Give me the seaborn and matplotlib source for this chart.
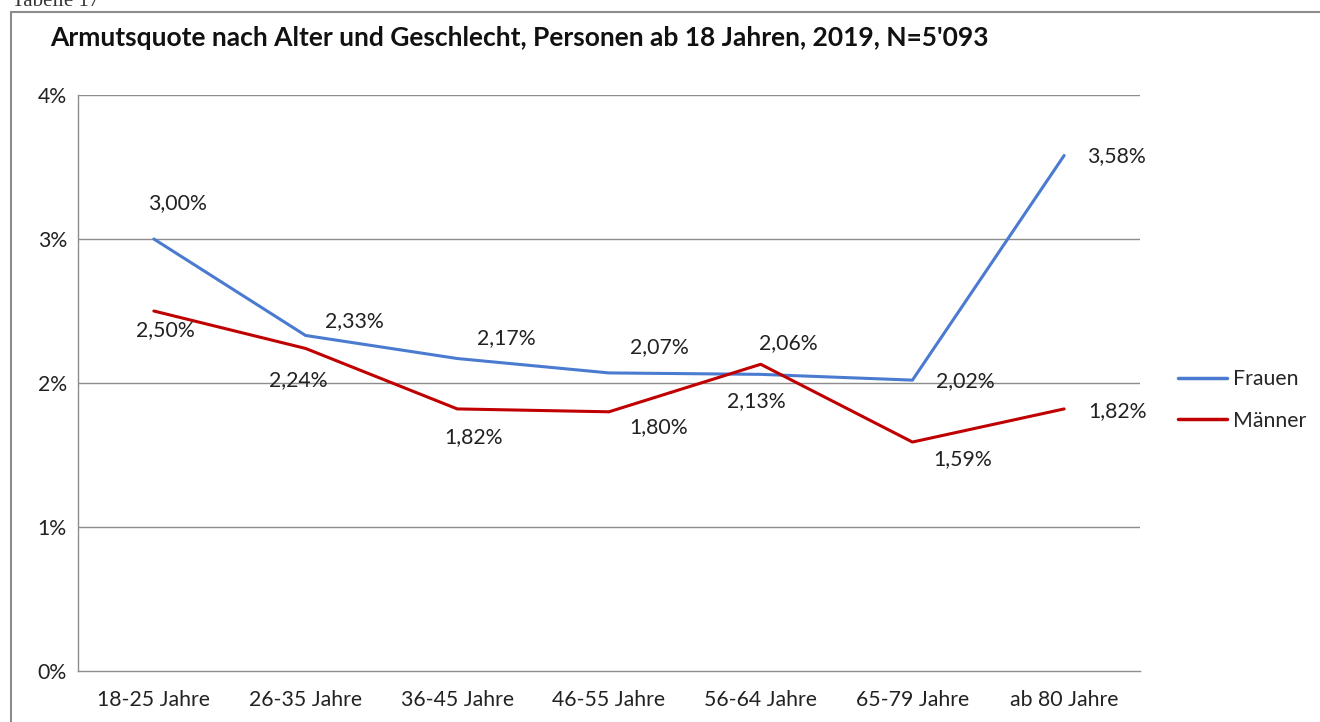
import numpy as np
import pandas as pd
import matplotlib
matplotlib.use("Agg")
import matplotlib.pyplot as plt
import matplotlib.patches as mpatches
import seaborn as sns

# data
categories = ["18-25 Jahre", "26-35 Jahre", "36-45 Jahre", "46-55 Jahre",
              "56-64 Jahre", "65-79 Jahre", "ab 80 Jahre"]
frauen = [3.00, 2.33, 2.17, 2.07, 2.06, 2.02, 3.58]
maenner = [2.50, 2.24, 1.82, 1.80, 2.13, 1.59, 1.82]
series_names = ["Frauen", "Männer"]
y_ticks = [0, 1, 2, 3, 4]

# label offsets in pixels (dx, dy with dy up)
frauen_off = [(24, 36), (49, 14), (49, 20), (50, 26), (28, 31), (53, -1), (52, -1)]
maenner_off = [(12, -19), (-7, -32), (16, -28), (50, -15), (-4, -37), (50, -17), (53, -2)]

df = pd.DataFrame({
    "Alter": categories * 2,
    "x": list(range(len(categories))) * 2,
    "Quote": frauen + maenner,
    "Geschlecht": [series_names[0]] * len(categories) + [series_names[1]] * len(categories),
})

sns.set_style("white")
plt.rcParams["font.family"] = ["Lato", "DejaVu Sans"]

colors = {"Frauen": "#4A7BD0", "Männer": "#C00000"}
fs = 15.3

fig = plt.figure(figsize=(13.2, 7.22), dpi=100)
ax = fig.add_axes([78 / 1320, 1 - 671 / 722, (1140 - 78) / 1320, (671 - 95) / 722])

sns.lineplot(data=df, x="x", y="Quote", hue="Geschlecht", palette=colors,
             linewidth=2.2, ax=ax, legend=False)

ax.set_xlim(-0.5, len(categories) - 0.5)
ax.set_ylim(0, 4)
ax.set_yticks(y_ticks)
ax.set_yticklabels([f"{t}%" for t in y_ticks], fontsize=fs)
ax.set_xticks(range(len(categories)))
ax.set_xticklabels(categories, fontsize=fs)
ax.tick_params(axis="both", length=0, colors="#222222")
ax.tick_params(axis="x", pad=14)
ax.tick_params(axis="y", pad=8)
ax.set_xlabel("")
ax.set_ylabel("")
for t in y_ticks[1:]:
    ax.axhline(t, color="#8c8c8c", linewidth=1, zorder=0)
for s in ["top", "right"]:
    ax.spines[s].set_visible(False)
for s in ["left", "bottom"]:
    ax.spines[s].set_color("#8c8c8c")
    ax.spines[s].set_linewidth(1)

def fmt(v):
    return f"{v:.2f}%".replace(".", ",")

for vals, offs in [(frauen, frauen_off), (maenner, maenner_off)]:
    for i, (v, (dx, dy)) in enumerate(zip(vals, offs)):
        ax.annotate(fmt(v), (i, v), xytext=(dx * 0.72, dy * 0.72),
                    textcoords="offset points", ha="center", va="center",
                    fontsize=fs, color="#222222")

# legend
handles = [plt.Line2D([], [], color=colors[n], linewidth=2.5) for n in series_names]
fig.legend(handles, series_names, loc="center left",
           bbox_to_anchor=(1159 / 1320, 1 - 400 / 722), frameon=False,
           fontsize=fs, handlelength=2.3, handletextpad=0.3, labelspacing=1.0)

# title
fig.text(50 / 1320, 1 - 38 / 722,
         "Armutsquote nach Alter und Geschlecht, Personen ab 18 Jahren, 2019, N=5'093",
         fontsize=19, fontweight="bold", va="center", ha="left", color="#111111")

# chart frame and caption
fig.add_artist(mpatches.Rectangle((11 / 1320, -0.1), 1.2, 1 - 12 / 722 + 0.1,
                                  transform=fig.transFigure, fill=False,
                                  edgecolor="#8c8c8c", linewidth=1.5))
fig.text(12 / 1320, 1 - 6 / 722, "Tabelle 17", family="Liberation Serif",
         fontsize=15, va="baseline", ha="left", color="#333333")

fig.savefig("out.png", dpi=100)
